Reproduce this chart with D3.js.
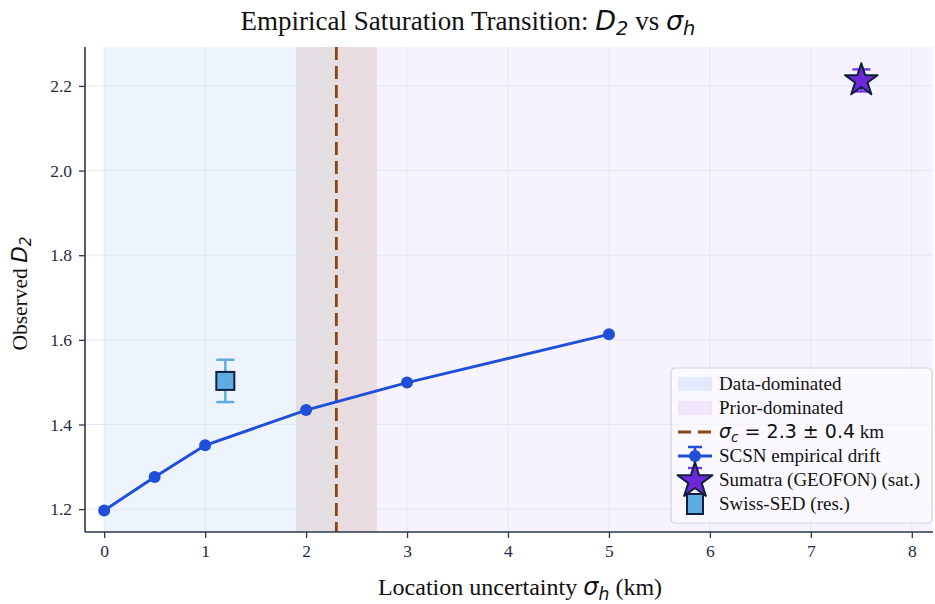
<!DOCTYPE html>
<html>
<head>
<meta charset="utf-8">
<script src="https://cdn.jsdelivr.net/npm/d3@7"></script>
<style>
  body { margin: 0; background: #fff; }
  svg { display: block; }
  .tick text { font-family: "Liberation Serif", "DejaVu Serif", serif; font-size: 17.5px; fill: #1e2a44; }
  .math { font-family: "DejaVu Sans", sans-serif; font-style: italic; }
</style>
</head>
<body>
<div id="vis"></div>
<script>
// ---- data ----
var scsnX = [0, 0.5, 1, 2, 3, 5];
var scsnY = [1.197, 1.276, 1.351, 1.434, 1.499, 1.613];
var scsnErr = [0.004, 0.004, 0.004, 0.004, 0.004, 0.004];

var swissX = [1.2], swissY = [1.503], swissErr = [0.05];
var sumatraX = [7.5], sumatraY = [2.213], sumatraErr = [0.026];

var sigmaC = 2.3, sigmaCErr = 0.4;
var xTicks = [0, 1, 2, 3, 4, 5, 6, 7, 8];
var yTicks = [1.2, 1.4, 1.6, 1.8, 2.0, 2.2];
var xDomain = [-0.19, 8.21];
var yDomain = [1.146, 2.292];

var W = 935, H = 604;
var margin = {top: 47, right: 2, bottom: 72, left: 85},
    width = W - margin.left - margin.right,
    height = H - margin.top - margin.bottom;

var x = d3.scaleLinear().domain(xDomain).range([0, width]);
var y = d3.scaleLinear().domain(yDomain).range([height, 0]);

var ink = "#2d3748";
var blue = "#1f4fd8";
var brown = "#8B4513";

var svg = d3.select("#vis").append("svg")
    .attr("width", W)
    .attr("height", H);

var g = svg.append("g")
    .attr("transform", "translate(" + margin.left + "," + margin.top + ")");

// shaded regimes
g.append("rect")
    .attr("x", x(0)).attr("y", 0)
    .attr("width", x(sigmaC) - x(0)).attr("height", height)
    .attr("fill", "#3b82f6").attr("fill-opacity", 0.085);
g.append("rect")
    .attr("x", x(sigmaC)).attr("y", 0)
    .attr("width", x(xDomain[1]) - x(sigmaC)).attr("height", height)
    .attr("fill", "#7c3aed").attr("fill-opacity", 0.065);
g.append("rect")
    .attr("x", x(sigmaC - sigmaCErr)).attr("y", 0)
    .attr("width", x(sigmaC + sigmaCErr) - x(sigmaC - sigmaCErr)).attr("height", height)
    .attr("fill", brown).attr("fill-opacity", 0.12);

// grid
g.append("g").selectAll("line").data(xTicks).enter().append("line")
    .attr("x1", function(d) { return x(d); }).attr("x2", function(d) { return x(d); })
    .attr("y1", 0).attr("y2", height)
    .attr("stroke", "#dfe3ee").attr("stroke-opacity", 0.75).attr("stroke-width", 1);
g.append("g").selectAll("line").data(yTicks).enter().append("line")
    .attr("y1", function(d) { return y(d); }).attr("y2", function(d) { return y(d); })
    .attr("x1", 0).attr("x2", width)
    .attr("stroke", "#dfe3ee").attr("stroke-opacity", 0.75).attr("stroke-width", 1);

// sigma_c line
g.append("line")
    .attr("x1", x(sigmaC)).attr("x2", x(sigmaC))
    .attr("y1", 0).attr("y2", height)
    .attr("stroke", brown).attr("stroke-width", 2.8)
    .attr("stroke-dasharray", "13,6");

// SCSN drift
var scsn = scsnX.map(function(d, i) { return {x: d, y: scsnY[i], e: scsnErr[i]}; });
g.append("path")
    .datum(scsn)
    .attr("fill", "none")
    .attr("stroke", blue)
    .attr("stroke-width", 3)
    .attr("d", d3.line().x(function(d) { return x(d.x); }).y(function(d) { return y(d.y); }));
g.selectAll(".scsn-dot").data(scsn).enter().append("circle")
    .attr("class", "scsn-dot")
    .attr("cx", function(d) { return x(d.x); })
    .attr("cy", function(d) { return y(d.y); })
    .attr("r", 6)
    .attr("fill", blue);

function errorbar(sel, px, py, pe, color, cap, sw) {
  var x0 = x(px), y1 = y(py - pe), y2 = y(py + pe);
  sel.append("line").attr("x1", x0).attr("x2", x0).attr("y1", y1).attr("y2", y2)
      .attr("stroke", color).attr("stroke-width", sw);
  [y1, y2].forEach(function(yy) {
    sel.append("line").attr("x1", x0 - cap).attr("x2", x0 + cap).attr("y1", yy).attr("y2", yy)
        .attr("stroke", color).attr("stroke-width", sw);
  });
}

// Swiss-SED
errorbar(g, swissX[0], swissY[0], swissErr[0], "#5dade2", 9, 2.5);
g.append("rect")
    .attr("x", x(swissX[0]) - 9).attr("y", y(swissY[0]) - 9)
    .attr("width", 18).attr("height", 18)
    .attr("fill", "#5dade2").attr("stroke", "#0f1f3d").attr("stroke-width", 2);

// Sumatra
var starPath = d3.symbol().type(d3.symbolStar).size(330);
errorbar(g, sumatraX[0], sumatraY[0], sumatraErr[0], "#7c3aed", 9, 2.5);
g.append("path")
    .attr("d", starPath())
    .attr("transform", "translate(" + x(sumatraX[0]) + "," + y(sumatraY[0]) + ")")
    .attr("fill", "#6d28d9").attr("stroke", "#0f1f3d").attr("stroke-width", 2)
    .attr("stroke-linejoin", "round");

// axes
var xAxis = d3.axisBottom(x).tickValues(xTicks).tickSize(6).tickPadding(7).tickFormat(d3.format("d"));
var yAxis = d3.axisLeft(y).tickValues(yTicks).tickSize(6).tickPadding(7).tickFormat(d3.format(".1f"));

var gx = g.append("g").attr("transform", "translate(0," + height + ")").call(xAxis);
var gy = g.append("g").call(yAxis);
[gx, gy].forEach(function(a) {
  a.select(".domain").attr("stroke", ink).attr("stroke-width", 1.6);
  a.selectAll(".tick line").attr("stroke", ink).attr("stroke-width", 1.3);
});
gx.select(".domain").attr("d", "M0,0H" + width);
gy.select(".domain").attr("d", "M0," + height + "V0");

// labels
var serif = "'Liberation Serif', 'DejaVu Serif', serif";

function mathLabel(sel, parts) {
  parts.forEach(function(p) {
    var t = sel.append("tspan").text(p.t);
    if (p.m) t.attr("class", "math");
    if (p.sub) t.attr("class", "math").attr("font-size", "0.72em").attr("dy", "0.28em");
    if (p.dj) t.attr("font-family", "DejaVu Sans, sans-serif");
    if (p.after) t.attr("dy", "-0.2em");
  });
}

var title = svg.append("text")
    .attr("x", 468).attr("y", 30)
    .attr("text-anchor", "middle")
    .attr("font-family", serif).attr("font-size", 27)
    .attr("fill", "#111");
mathLabel(title, [
  {t: "Empirical Saturation Transition: "},
  {t: "D", m: true}, {t: "2", sub: true},
  {t: " vs ", after: true},
  {t: "σ", m: true}, {t: "h", sub: true}
]);

var xl = svg.append("text")
    .attr("x", 520).attr("y", 595)
    .attr("text-anchor", "middle")
    .attr("font-family", serif).attr("font-size", 24)
    .attr("fill", "#111");
mathLabel(xl, [
  {t: "Location uncertainty "},
  {t: "σ", m: true}, {t: "h", sub: true},
  {t: " (km)", after: true}
]);

var yl = svg.append("text")
    .attr("transform", "translate(27," + (margin.top + height / 2 + 4) + ") rotate(-90)")
    .attr("text-anchor", "middle")
    .attr("font-family", serif).attr("font-size", 21.5)
    .attr("fill", "#111");
mathLabel(yl, [
  {t: "Observed "},
  {t: "D", m: true}, {t: "2", sub: true}
]);

// legend
var lg = svg.append("g").attr("transform", "translate(671,368)");
lg.append("rect")
    .attr("width", 261).attr("height", 155).attr("rx", 4)
    .attr("fill", "#ffffff").attr("fill-opacity", 0.55)
    .attr("stroke", "#cfd4de").attr("stroke-width", 1.2);

var rowY = [16, 40, 64, 88, 112, 136];
var hx0 = 7, hx1 = 41, hxc = 24, tx = 48;

lg.append("rect").attr("x", hx0).attr("y", rowY[0] - 7).attr("width", hx1 - hx0).attr("height", 14)
    .attr("fill", "#3b82f6").attr("fill-opacity", 0.12);
lg.append("rect").attr("x", hx0).attr("y", rowY[1] - 7).attr("width", hx1 - hx0).attr("height", 14)
    .attr("fill", "#7c3aed").attr("fill-opacity", 0.09);
lg.append("line").attr("x1", hx0).attr("x2", hx1).attr("y1", rowY[2]).attr("y2", rowY[2])
    .attr("stroke", brown).attr("stroke-width", 2.8).attr("stroke-dasharray", "13,7");
// SCSN handle
lg.append("line").attr("x1", hx0).attr("x2", hx1).attr("y1", rowY[3]).attr("y2", rowY[3])
    .attr("stroke", blue).attr("stroke-width", 3);
lg.append("line").attr("x1", hxc).attr("x2", hxc).attr("y1", rowY[3] - 9).attr("y2", rowY[3] + 9)
    .attr("stroke", blue).attr("stroke-width", 2.5);
lg.append("line").attr("x1", hxc - 7).attr("x2", hxc + 7).attr("y1", rowY[3] - 9).attr("y2", rowY[3] - 9)
    .attr("stroke", blue).attr("stroke-width", 2.5);
lg.append("circle").attr("cx", hxc).attr("cy", rowY[3]).attr("r", 6).attr("fill", blue);
// Sumatra handle
lg.append("line").attr("x1", hxc - 7).attr("x2", hxc + 7).attr("y1", rowY[4] - 12).attr("y2", rowY[4] - 12)
    .attr("stroke", "#7c3aed").attr("stroke-width", 2.5);
lg.append("path").attr("d", d3.symbol().type(d3.symbolStar).size(380)())
    .attr("transform", "translate(" + hxc + "," + (rowY[4] + 1) + ")")
    .attr("fill", "#6d28d9").attr("stroke", "#0f1f3d").attr("stroke-width", 2)
    .attr("stroke-linejoin", "round");
// Swiss handle
lg.append("rect").attr("x", hxc - 8).attr("y", rowY[5] - 10).attr("width", 16).attr("height", 20)
    .attr("fill", "#5dade2").attr("stroke", "#0f1f3d").attr("stroke-width", 2);

var labels = [
  [{t: "Data-dominated"}],
  [{t: "Prior-dominated"}],
  [{t: "σ", m: true}, {t: "c", sub: true}, {t: " = 2.3 ± 0.4", dj: true, after: true}, {t: " km"}],
  [{t: "SCSN empirical drift"}],
  [{t: "Sumatra (GEOFON) (sat.)"}],
  [{t: "Swiss-SED (res.)"}]
];
labels.forEach(function(parts, i) {
  var t = lg.append("text")
      .attr("x", tx).attr("y", rowY[i] + 6)
      .attr("font-family", serif).attr("font-size", 19)
      .attr("fill", "#111");
  mathLabel(t, parts);
});
</script>
</body>
</html>
